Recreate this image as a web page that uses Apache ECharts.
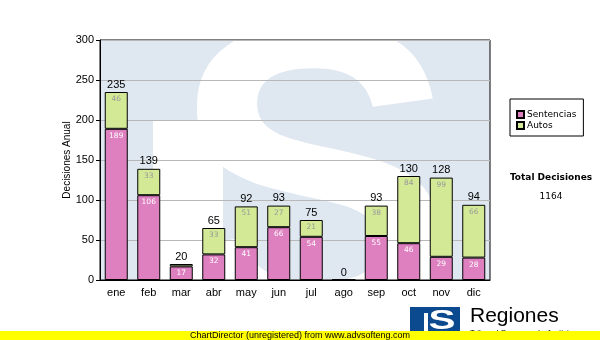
<!DOCTYPE html>
<html>
<head>
<meta charset="utf-8">
<script src="https://cdn.jsdelivr.net/npm/echarts@6/dist/echarts.min.js"></script>
<style>
  html, body { margin: 0; padding: 0; background: #fff; }
  #chart { width: 600px; height: 340px; }
</style>
</head>
<body>
<div id="chart"></div>
<script>
// Monthly decisions, split by type
const months = ['ene', 'feb', 'mar', 'abr', 'may', 'jun', 'jul', 'ago', 'sep', 'oct', 'nov', 'dic'];
const sentencias = [189, 106, 17, 32, 41, 66, 54, 0, 55, 46, 29, 28];
const autos = [46, 33, 3, 33, 51, 27, 21, 0, 38, 84, 99, 66];
const yTicks = { min: 0, max: 300, interval: 50 };

const totals = months.map((m, i) => sentencias[i] + autos[i]);
const grandTotal = totals.reduce((a, b) => a + b, 0);

const PINK = '#de7fc0';
const GREEN = '#d3e995';
const WASH = '#dfe8f1';

const chart = echarts.init(document.getElementById('chart'), null, { renderer: 'canvas' });

// plot-area box used by the background emblem
const P = { x: 100, y: 40, w: 390, h: 240 };

chart.setOption({
  animation: false,
  backgroundColor: '#fff',
  grid: {
    left: P.x, top: P.y, width: P.w, height: P.h,
    show: true, borderColor: '#000', borderWidth: 1, backgroundColor: 'transparent'
  },
  legend: {
    data: ['Sentencias', 'Autos'],
    orient: 'vertical',
    left: 510, top: 99,
    padding: [11, 7, 6, 6],
    itemGap: 2,
    itemWidth: 7, itemHeight: 7,
    icon: 'rect',
    borderColor: '#000', borderWidth: 1, backgroundColor: '#fff',
    textStyle: { fontFamily: 'DejaVu Sans', fontSize: 9, color: '#000', padding: [0, 0, 0, -2] }
  },
  xAxis: {
    type: 'category',
    data: months,
    axisLine: { lineStyle: { color: '#000', width: 1 } },
    axisTick: { alignWithLabel: true, length: 4, lineStyle: { color: '#000' } },
    axisLabel: { color: '#000', fontFamily: 'Liberation Sans', fontSize: 11, margin: 7 }
  },
  yAxis: {
    type: 'value',
    min: yTicks.min, max: yTicks.max, interval: yTicks.interval,
    name: 'Decisiones Anual',
    nameLocation: 'middle',
    nameGap: 28,
    nameMoveOverlap: false,
    nameRotate: 90,
    nameTextStyle: { fontFamily: 'Liberation Sans', fontSize: 10, color: '#000' },
    axisLine: { show: true, lineStyle: { color: '#000', width: 1 } },
    axisTick: { show: true, length: 4, lineStyle: { color: '#000' } },
    axisLabel: { color: '#000', fontFamily: 'Liberation Sans', fontSize: 11, margin: 6 },
    splitLine: { show: true, lineStyle: { color: '#b8b8b8', width: 1 } }
  },
  series: [
    {
      name: 'Sentencias', type: 'bar', stack: 'total', barWidth: 23,
      data: sentencias,
      itemStyle: { color: PINK, borderColor: '#000', borderWidth: 1 },
      label: {
        show: true, position: 'insideTop', distance: 3,
        fontFamily: 'DejaVu Sans', fontSize: 7.5, color: '#fff',
        formatter: p => (p.value >= 8 ? String(p.value) : '')
      }
    },
    {
      name: 'Autos', type: 'bar', stack: 'total', barWidth: 23,
      data: autos,
      itemStyle: { color: GREEN, borderColor: '#000', borderWidth: 1 },
      label: {
        show: true, position: 'insideTop', distance: 3,
        fontFamily: 'DejaVu Sans', fontSize: 7.5, color: '#9a9a9a',
        formatter: p => (p.value >= 8 ? String(p.value) : '')
      }
    },
    {
      // zero-height cap carrying the monthly total above each stack
      name: 'Total', type: 'bar', stack: 'total', barWidth: 23,
      data: months.map(() => 0),
      itemStyle: { color: 'transparent', borderWidth: 0 },
      label: {
        show: true, position: 'top', distance: 2,
        fontFamily: 'Liberation Sans', fontSize: 11, color: '#000',
        formatter: p => String(totals[p.dataIndex])
      },
      tooltip: { show: false }
    }
  ],
  graphic: [
    // emblem behind the plot: pale field, white gap, large white S
    { type: 'rect', z: -10, shape: { x: P.x, y: P.y, width: P.w, height: P.h }, style: { fill: WASH } },
    { type: 'rect', z: -9, shape: { x: 153, y: 120, width: 70, height: 160 }, style: { fill: '#fff' } },
    {
      type: 'text', z: -8, x: 314, y: 206,
      style: {
        text: 'S', fill: '#fff', font: 'bold 430px "Liberation Sans"',
        textAlign: 'center', textVerticalAlign: 'middle'
      }
    },
    // white margins keep the emblem inside the plot box
    { type: 'rect', z: -7, shape: { x: 0, y: 0, width: 600, height: P.y }, style: { fill: '#fff' } },
    { type: 'rect', z: -7, shape: { x: 0, y: P.y + P.h, width: 600, height: 340 - P.y - P.h }, style: { fill: '#fff' } },
    { type: 'rect', z: -7, shape: { x: 0, y: 0, width: P.x, height: 340 }, style: { fill: '#fff' } },
    { type: 'rect', z: -7, shape: { x: P.x + P.w, y: 0, width: 600 - P.x - P.w, height: 340 }, style: { fill: '#fff' } },

    // grand total block
    {
      type: 'text', z: 10, x: 551, y: 178,
      style: { text: 'Total Decisiones', fill: '#000', font: 'bold 9px "DejaVu Sans"', textAlign: 'center', textVerticalAlign: 'middle' }
    },
    {
      type: 'text', z: 10, x: 551, y: 197,
      style: { text: String(grandTotal), fill: '#000', font: '9px "DejaVu Sans"', textAlign: 'center', textVerticalAlign: 'middle' }
    },

    // logo at the bottom right
    { type: 'rect', z: 10, shape: { x: 410, y: 307, width: 50, height: 28 }, style: { fill: '#0b4a8e' } },
    { type: 'rect', z: 11, shape: { x: 424, y: 313, width: 4, height: 22 }, style: { fill: '#fff' } },
    {
      type: 'text', z: 12, x: 442, y: 322, scaleX: 1.5,
      style: { text: 'S', fill: '#fff', font: 'bold 27px "Liberation Sans"', textAlign: 'center', textVerticalAlign: 'middle' }
    },
    {
      type: 'text', z: 10, x: 470, y: 316,
      style: { text: 'Regiones', fill: '#000', font: '21px "Liberation Sans"', textAlign: 'left', textVerticalAlign: 'middle' }
    },
    {
      type: 'text', z: 10, x: 470, y: 333,
      style: { text: 'Tribunal Supremo de Justicia', fill: '#000', font: '8px "Liberation Sans"', textAlign: 'left', textVerticalAlign: 'middle' }
    },

    // footer strip
    { type: 'rect', z: 20, shape: { x: 0, y: 331, width: 600, height: 9 }, style: { fill: '#ffff00' } },
    {
      type: 'text', z: 21, x: 300, y: 335.5,
      style: { text: 'ChartDirector (unregistered) from www.advsofteng.com', fill: '#000', font: '9px "Liberation Sans"', textAlign: 'center', textVerticalAlign: 'middle' }
    }
  ]
});
</script>
</body>
</html>
